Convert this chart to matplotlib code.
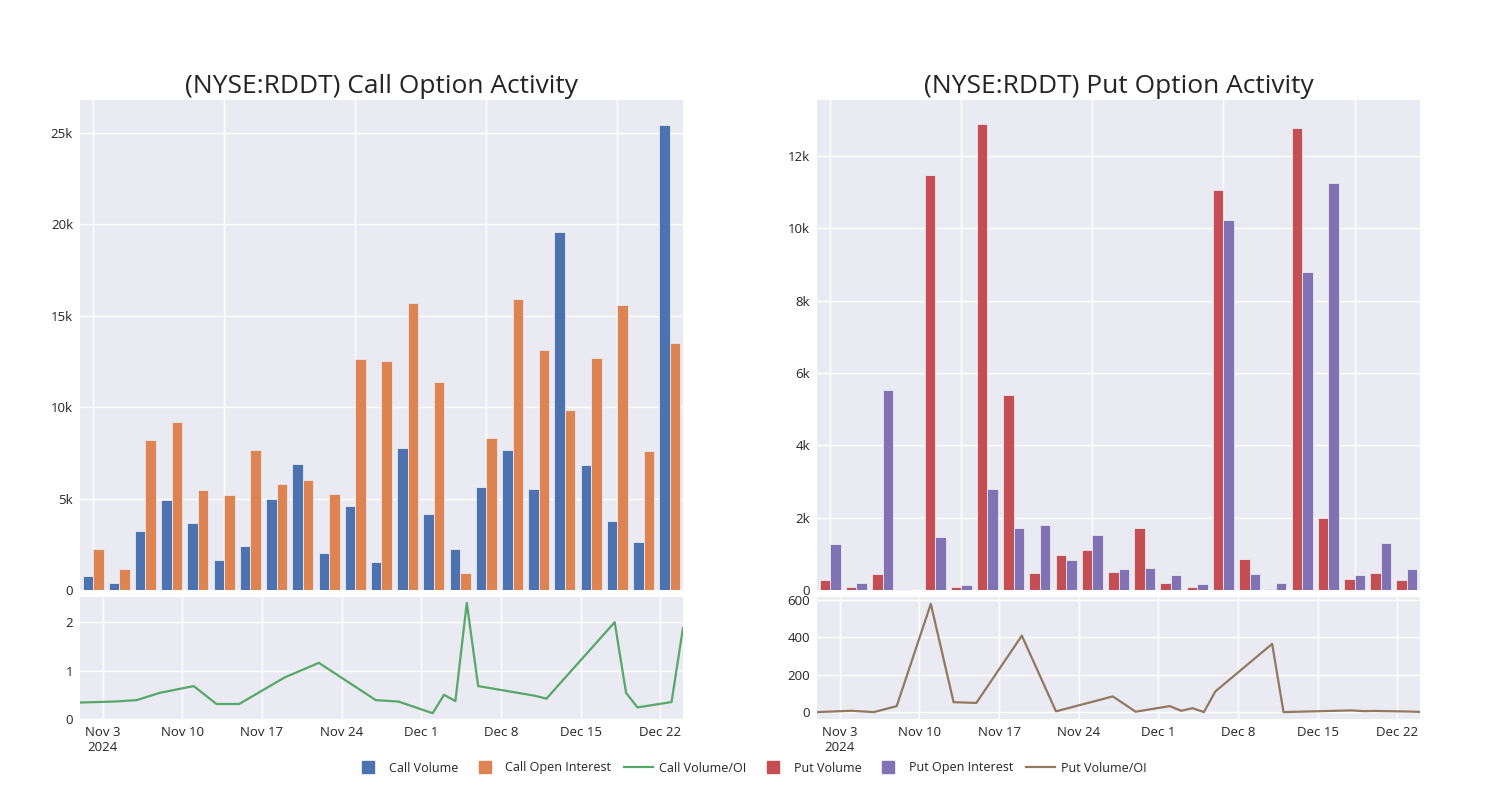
import datetime as dt
import numpy as np
import matplotlib
matplotlib.use("Agg")
import matplotlib.pyplot as plt
import matplotlib.dates as mdates
from matplotlib.lines import Line2D
from matplotlib.ticker import FuncFormatter, FixedLocator

plt.rcParams['font.family'] = ['Open Sans', 'DejaVu Sans']

# data
dates = ["2024-11-01", "2024-11-04", "2024-11-06", "2024-11-08", "2024-11-11",
         "2024-11-13", "2024-11-15", "2024-11-19", "2024-11-22", "2024-11-27",
         "2024-11-29", "2024-12-02", "2024-12-03", "2024-12-04", "2024-12-05",
         "2024-12-06", "2024-12-11", "2024-12-12", "2024-12-18", "2024-12-19",
         "2024-12-20", "2024-12-23", "2024-12-24"]

call_volume = [760, 400, 3220, 4910, 3670, 1650, 2400, 5000, 6910, 2050, 4580, 1530,
               7750, 4180, 2250, 5640, 7640, 5550, 19580, 6820, 3780, 2650, 25440]
call_oi = [2220, 1130, 8220, 9180, 5450, 5220, 7650, 5820, 6000, 5270, 12640, 12530,
           15670, 11360, 950, 8290, 15890, 13130, 9850, 12670, 15580, 7580, 13530]
call_ratio = [0.34, 0.36, 0.39, 0.54, 0.68, 0.31, 0.31, 0.86, 1.16, 0.39, 0.36, 0.12,
              0.50, 0.37, 2.40, 0.68, 0.48, 0.42, 2.0, 0.54, 0.24, 0.35, 1.88]

put_volume = [290, 80, 450, 40, 11480, 90, 12890, 5400, 480, 980, 1100, 510,
              1710, 180, 80, 11070, 860, 20, 12780, 1980, 310, 470, 290]
put_oi = [1280, 180, 5540, 0, 1470, 130, 2800, 1710, 1810, 830, 1520, 580,
          600, 420, 170, 10240, 440, 180, 8800, 11260, 410, 1310, 590]
put_ratio = [0, 7, 0, 32, 579, 53, 49, 409, 4, 84, 2, 32,
             7, 21, 0, 110, 365, 0, 9, 5, 6, 3, 1]

BG = "#EAEAF2"
TXT = "#242424"
c_call_vol, c_call_oi, c_call_ratio = "#4C72B0", "#DD8452", "#55A868"
c_put_vol, c_put_oi, c_put_ratio = "#C44E52", "#8172B3", "#937860"

days = [dt.datetime.strptime(d, "%Y-%m-%d") for d in dates]
x = np.arange(len(dates))


def k_fmt(v, pos):
    return "0" if v == 0 else f"{v/1000:g}k"


def date_fmt(v, pos):
    d = mdates.num2date(v)
    s = f"{d.strftime('%b')} {d.day}"
    if pos == 0:
        s += "\n2024"
    return s


def style(ax):
    ax.set_facecolor(BG)
    for sp in ax.spines.values():
        sp.set_visible(False)
    ax.grid(True, color="white", linewidth=1)
    ax.set_axisbelow(True)
    ax.tick_params(length=0, labelsize=9.5, labelcolor=TXT, pad=5)


def panel(left, title, vol, oi, ratio, cv, co, cr, ytop, ystep, rlim, rstep):
    ax = fig.add_axes([left, 0.2625, 0.402, 0.6125])
    style(ax)
    ax.bar(x - 0.2, vol, width=0.4, color=cv, edgecolor=BG, linewidth=0.6)
    ax.bar(x + 0.2, oi, width=0.4, color=co, edgecolor=BG, linewidth=0.6)
    ax.set_xlim(-0.5, len(x) - 0.5)
    ax.xaxis.set_major_locator(FixedLocator([0, 5, 10, 15, 20]))
    ax.set_xticklabels([])
    ax.set_ylim(0, ytop)
    ax.yaxis.set_major_locator(FixedLocator(np.arange(0, ytop, ystep)))
    ax.yaxis.set_major_formatter(FuncFormatter(k_fmt))
    ax.set_title(title, fontsize=19, color=TXT, pad=5)

    ax2 = fig.add_axes([left, 0.10125, 0.402, 0.1525])
    style(ax2)
    ax2.plot(days, ratio, color=cr, linewidth=1.6)
    ax2.set_xlim(days[0], days[-1])
    ax2.set_ylim(*rlim)
    ax2.yaxis.set_major_locator(FixedLocator(np.arange(0, rlim[1], rstep)))
    ax2.xaxis.set_major_locator(mdates.WeekdayLocator(byweekday=mdates.SU))
    ax2.xaxis.set_major_formatter(FuncFormatter(date_fmt))
    return ax, ax2


fig = plt.figure(figsize=(15, 8), dpi=100)

panel(0.0533, "(NYSE:RDDT) Call Option Activity", call_volume, call_oi, call_ratio,
      c_call_vol, c_call_oi, c_call_ratio, 26800, 5000, (0, 2.52), 1)
panel(0.5447, "(NYSE:RDDT) Put Option Activity", put_volume, put_oi, put_ratio,
      c_put_vol, c_put_oi, c_put_ratio, 13550, 2000, (-37, 616), 200)

handles = [
    Line2D([], [], marker="s", linestyle="none", color=c_call_vol, markersize=9),
    Line2D([], [], marker="s", linestyle="none", color=c_call_oi, markersize=9),
    Line2D([], [], color=c_call_ratio, linewidth=1.6),
    Line2D([], [], marker="s", linestyle="none", color=c_put_vol, markersize=9),
    Line2D([], [], marker="s", linestyle="none", color=c_put_oi, markersize=9),
    Line2D([], [], color=c_put_ratio, linewidth=1.6),
]
labels = ["Call Volume", "Call Open Interest", "Call Volume/OI",
          "Put Volume", "Put Open Interest", "Put Volume/OI"]
fig.legend(handles, labels, loc="center", bbox_to_anchor=(0.5, 0.04), ncol=6,
           frameon=False, fontsize=9, labelcolor=TXT, handlelength=2.3,
           columnspacing=1.0, handletextpad=0.5)

fig.savefig("out.png", dpi=100, facecolor="white")
